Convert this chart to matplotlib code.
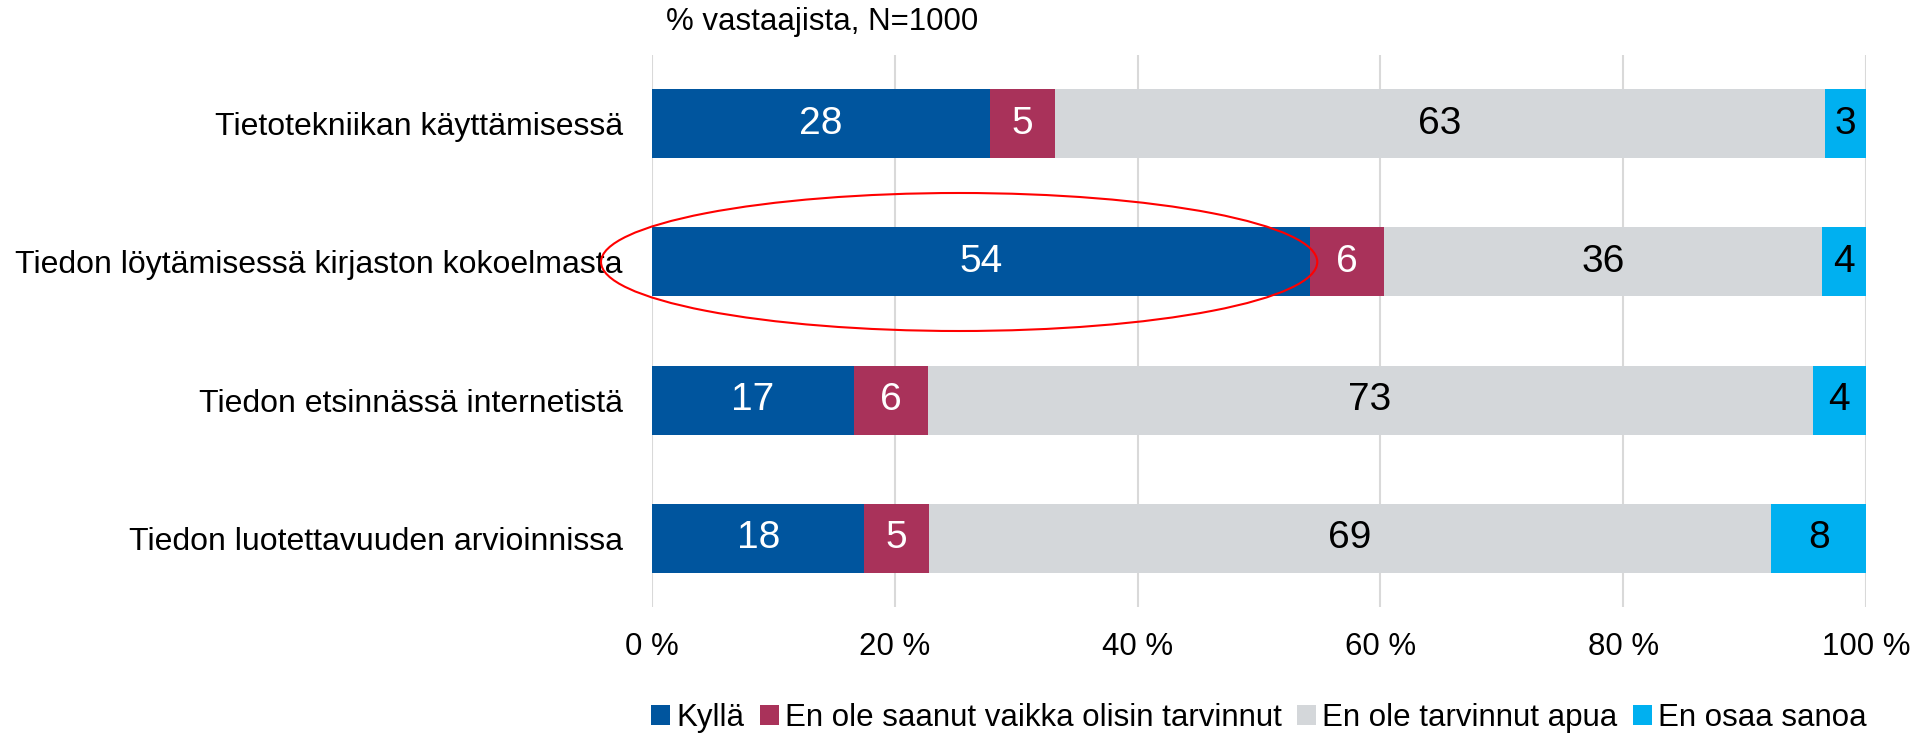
import matplotlib
matplotlib.use("Agg")
import matplotlib.pyplot as plt
from matplotlib.patches import Ellipse
import numpy as np

categories = [
    "Tietotekniikan käyttämisessä",
    "Tiedon löytämisessä kirjaston kokoelmasta",
    "Tiedon etsinnässä internetistä",
    "Tiedon luotettavuuden arvioinnissa",
]
series_names = [
    "Kyllä",
    "En ole saanut vaikka olisin tarvinnut",
    "En ole tarvinnut apua",
    "En osaa sanoa",
]
kylla = [27.8, 54.2, 16.6, 17.5]
ei_saanut = [5.4, 6.1, 6.1, 5.3]
ei_tarvinnut = [63.4, 36.1, 72.9, 69.4]
ei_osaa = [3.4, 3.6, 4.4, 7.8]
xtick_labels = ["0 %", "20 %", "40 %", "60 %", "80 %", "100 %"]

colors = ["#00559E", "#A9325A", "#D4D7DA", "#00B0F0"]
label_colors = ["white", "white", "black", "black"]

plt.rcParams['font.family'] = ['Liberation Sans', 'DejaVu Sans']
FS = 22.5

fig = plt.figure(figsize=(19.16, 7.39), dpi=100)
ax = fig.add_axes([0.3403, 0.1786, 0.9739 - 0.3403, 0.9256 - 0.1786])

series = [kylla, ei_saanut, ei_tarvinnut, ei_osaa]
y = np.arange(len(categories))
left = np.zeros(len(categories))
for vals, name, col, lc in zip(series, series_names, colors, label_colors):
    vals = np.array(vals)
    bars = ax.barh(y, vals, left=left, height=0.5, color=col, label=name, zorder=3)
    ax.bar_label(bars, labels=[f"{int(v + 0.5):d}" for v in vals], label_type='center',
                 color=lc, fontsize=28)
    left = left + vals

ax.set_xlim(0, 100)
ax.set_ylim(3.5, -0.5)
ax.set_yticks(y)
ax.set_yticklabels(categories, fontsize=23)
ax.set_xticks(np.arange(0, 101, 20))
ax.set_xticklabels(xtick_labels, fontsize=FS)
ax.tick_params(axis='y', length=0, pad=21)
ax.tick_params(axis='x', length=0, pad=18)
ax.grid(axis='x', color='#D9D9D9', linewidth=1.5, zorder=0)
for s in ax.spines.values():
    s.set_visible(False)

ell = Ellipse((25.3, 1.0), width=59, height=1.0, fill=False, edgecolor='#FF0000',
              linewidth=1.5, clip_on=False, zorder=5)
ax.add_patch(ell)

fig.text(666 / 1916, 1 - 22 / 739, "% vastaajista, N=1000", fontsize=FS,
         ha='left', va='center')

ax.legend(loc='center', bbox_to_anchor=(0.5, (0.028 - 0.1786) / (0.9256 - 0.1786)),
          ncol=4, frameon=False, fontsize=FS, handlelength=0.6, handleheight=0.6,
          handletextpad=0.2, columnspacing=0.5, borderaxespad=0)

fig.savefig("out.png", dpi=100)
